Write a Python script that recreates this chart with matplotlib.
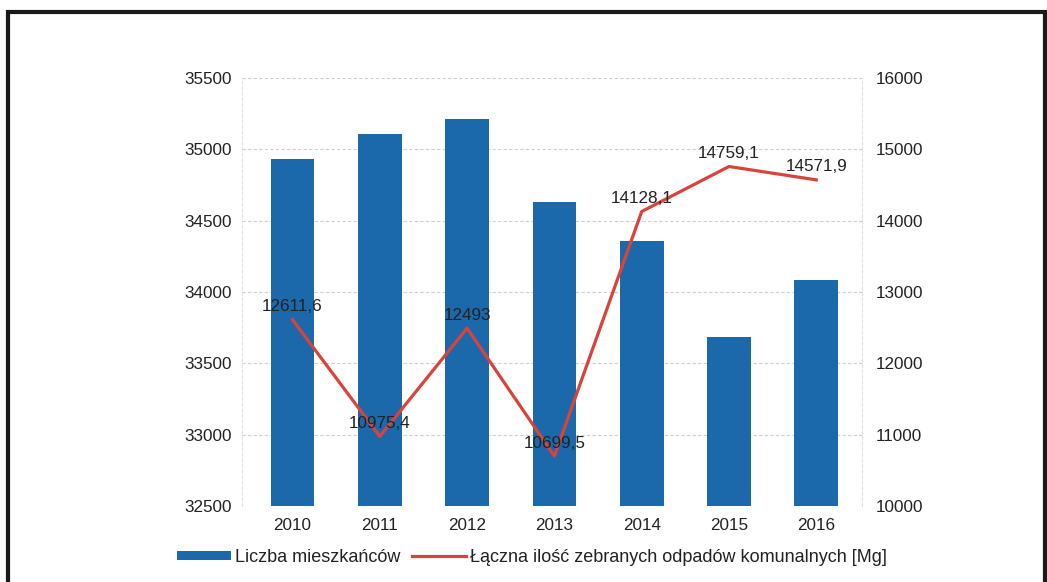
import matplotlib
matplotlib.use("Agg")
import matplotlib.pyplot as plt
from matplotlib.patches import Patch, Rectangle
from matplotlib.lines import Line2D

plt.rcParams['font.family'] = ['Liberation Sans', 'DejaVu Sans']

years = ["2010", "2011", "2012", "2013", "2014", "2015", "2016"]
residents = [34930, 35110, 35210, 34630, 34355, 33685, 34085]
waste = [12611.6, 10975.4, 12493, 10699.5, 14128.1, 14759.1, 14571.9]
waste_labels = ["12611,6", "10975,4", "12493", "10699,5", "14128,1", "14759,1", "14571,9"]
left_ticks = [32500, 33000, 33500, 34000, 34500, 35000, 35500]
right_ticks = [10000, 11000, 12000, 13000, 14000, 15000, 16000]
series_names = ["Liczba mieszkańców", "Łączna ilość zebranych odpadów komunalnych [Mg]"]

bar_color = "#1b68aa"
line_color = "#d8443c"
grid_color = "#cfcfcf"

fig = plt.figure(figsize=(10.47, 5.82), dpi=100)
ax = fig.add_axes([0.231, 0.1306, 0.592, 0.7354])
x = list(range(len(years)))

ax.bar(x, residents, width=0.5, color=bar_color, zorder=2)
ax.set_ylim(left_ticks[0], left_ticks[-1])
ax.set_yticks(left_ticks)
ax.set_xlim(-0.58, 6.52)
ax.set_xticks(x)
ax.set_xticklabels(years)
ax.grid(axis='y', color=grid_color, linestyle=(0, (3, 2)), linewidth=0.8, zorder=0)
for s in ['top', 'bottom']:
    ax.spines[s].set_visible(False)
for s in ['left', 'right']:
    ax.spines[s].set_color("#e2e2e2")
    ax.spines[s].set_linestyle((0, (3, 2)))
    ax.spines[s].set_linewidth(0.8)
ax.tick_params(axis='both', length=0, labelsize=12.3, colors="#222222")
ax.tick_params(axis='y', pad=7)
ax.tick_params(axis='x', pad=9)

ax2 = ax.twinx()
ax2.plot(x, waste, color=line_color, linewidth=2.3, zorder=3)
ax2.set_ylim(right_ticks[0], right_ticks[-1])
ax2.set_yticks(right_ticks)
for s in ax2.spines.values():
    s.set_visible(False)
ax2.tick_params(axis='y', length=0, labelsize=12.3, colors="#222222", pad=10)
for xi, v, lab in zip(x, waste, waste_labels):
    ax2.annotate(lab, (xi, v), xytext=(0, 4), textcoords='offset points',
                 ha='center', va='bottom', fontsize=12.3, color="#222222", zorder=4)

handles = [Patch(facecolor=bar_color, edgecolor='none'),
           Line2D([0], [0], color=line_color, linewidth=2.3)]
fig.legend(handles, series_names, loc='center', bbox_to_anchor=(0.508, 0.042),
           ncol=2, frameon=False, fontsize=13, handlelength=3.0, handleheight=0.45,
           handletextpad=0.25, columnspacing=0.6, labelcolor="#222222")

border = Rectangle((8 / 1047, -0.05), (1045 - 8) / 1047, 1.05 - 12 / 582,
                   transform=fig.transFigure, fill=False, edgecolor="#1a1a1a",
                   linewidth=3, clip_on=False)
fig.patches.append(border)

fig.savefig("out.png", dpi=100)
